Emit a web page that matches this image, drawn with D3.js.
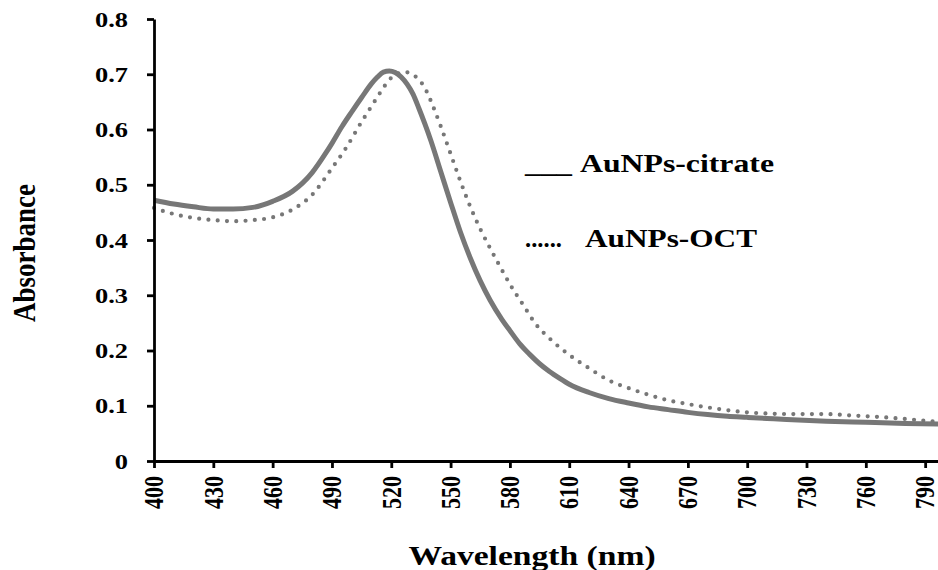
<!DOCTYPE html>
<html>
<head>
<meta charset="utf-8">
<script src="https://cdn.jsdelivr.net/npm/d3@7/dist/d3.min.js"></script>
<style>
  html, body { margin: 0; padding: 0; background: #fff; }
  svg { display: block; }
  text { font-family: "Liberation Serif", "Times New Roman", serif; font-weight: bold; fill: #000; }
</style>
</head>
<body>
<svg id="chart" width="938" height="570"></svg>
<script>
// ---- data ----
const citrateWavelength = [400,410,420,430,440,450,460,470,480,487,490,495,500,505,510,513,516,519,522,525,528,531,534,537,540,545,550,555,560,565,570,576,580,585,590,595,600,605,610,620,630,640,650,660,670,680,690,700,710,720,740,760,780,797];
const citrateAbs = [0.472,0.465,0.460,0.456,0.456,0.459,0.470,0.488,0.522,0.558,0.575,0.605,0.632,0.658,0.683,0.695,0.704,0.706,0.703,0.695,0.682,0.664,0.638,0.610,0.580,0.524,0.468,0.414,0.367,0.326,0.291,0.256,0.236,0.212,0.193,0.176,0.162,0.150,0.139,0.124,0.113,0.105,0.098,0.093,0.088,0.084,0.081,0.079,0.077,0.075,0.072,0.070,0.068,0.067];
const octWavelength = [400,405,410,420,430,440,450,460,470,480,490,497,505,510,515,519,523,527,531,535,538,541,545,550,555,560,565,570,575,580,587,593,600,610,620,630,640,650,660,670,680,690,700,710,720,730,740,750,760,770,780,790,797];
const octAbs = [0.458,0.452,0.447,0.440,0.436,0.434,0.436,0.441,0.455,0.482,0.530,0.566,0.614,0.642,0.670,0.690,0.701,0.704,0.699,0.686,0.668,0.643,0.606,0.556,0.506,0.460,0.420,0.385,0.352,0.320,0.281,0.248,0.222,0.192,0.168,0.146,0.132,0.120,0.110,0.103,0.097,0.092,0.088,0.086,0.085,0.085,0.085,0.083,0.081,0.079,0.076,0.073,0.071];
const xTicks = [400,430,460,490,520,550,580,610,640,670,700,730,760,790];
const yTicks = [0,0.1,0.2,0.3,0.4,0.5,0.6,0.7,0.8];
const seriesNames = ["AuNPs-citrate", "AuNPs-OCT"];
const legendMarks = ["___", "......"];
const xTitle = "Wavelength (nm)";
const yTitle = "Absorbance";

// ---- layout ----
const svg = d3.select("#chart");
const x = d3.scaleLinear().domain([400, 796.5]).range([154, 938]);
const y = d3.scaleLinear().domain([0, 0.8]).range([461, 19]);
const SX = 1.2; // horizontal stretch of the original figure
const lineColor = "#777777";

const line = d3.line().x(d => x(d[0])).y(d => y(d[1])).curve(d3.curveMonotoneX);

const citrate = citrateWavelength.map((w, i) => [w, citrateAbs[i]]);
const oct = octWavelength.map((w, i) => [w, octAbs[i]]);

// dotted OCT
svg.append("path").datum(oct)
  .attr("d", line).attr("fill", "none")
  .attr("stroke", lineColor).attr("stroke-width", 4.2)
  .attr("stroke-linecap", "round").attr("stroke-dasharray", "0 9.3");

// solid citrate
svg.append("path").datum(citrate)
  .attr("d", line).attr("fill", "none")
  .attr("stroke", lineColor).attr("stroke-width", 5)
  .attr("stroke-linejoin", "round");

// axes
const gx = svg.append("g").attr("transform", `translate(0,${y(0)})`)
  .call(d3.axisBottom(x).tickValues(xTicks).tickSize(7).tickSizeOuter(0).tickFormat(d3.format("d")));
gx.select(".domain").attr("stroke", "#000").attr("stroke-width", 2.8);
gx.selectAll(".tick line").attr("stroke", "#000").attr("stroke-width", 2.8);
gx.selectAll(".tick text").remove();

const gy = svg.append("g").attr("transform", `translate(${x(400)},0)`)
  .call(d3.axisLeft(y).tickValues(yTicks).tickSize(7).tickSizeOuter(0).tickFormat(d => d === 0 ? "0" : d3.format(".1f")(d)));
gy.select(".domain").attr("stroke", "#000").attr("stroke-width", 2.8);
gy.selectAll(".tick line").attr("stroke", "#000").attr("stroke-width", 2.8);
gy.selectAll(".tick text").remove();

// y tick labels
svg.append("g").selectAll("text").data(yTicks).join("text")
  .attr("transform", d => `translate(128,${y(d)}) scale(${SX},1)`)
  .attr("text-anchor", "end").attr("dy", "0.35em")
  .style("font-size", "22px")
  .text(d => d === 0 ? "0" : d3.format(".1f")(d));

// x tick labels (rotated)
svg.append("g").selectAll("text").data(xTicks).join("text")
  .attr("transform", d => `translate(${x(d)},476) scale(${SX},1) rotate(-90)`)
  .attr("text-anchor", "end").attr("dy", "0.35em")
  .style("font-size", "22px")
  .text(d => d);

// axis titles
svg.append("text")
  .attr("transform", `translate(532,565) scale(${SX},1)`)
  .attr("text-anchor", "middle").style("font-size", "28px")
  .text(xTitle);
svg.append("text")
  .attr("transform", `translate(24,253) scale(${SX},1) rotate(-90)`)
  .attr("text-anchor", "middle").attr("dy", "0.35em").style("font-size", "27px")
  .text(yTitle);

// legend (text marks)
const legendRows = [
  {mark: legendMarks[0], name: seriesNames[0], y: 172, markX: 525, markW: 47, nameX: 580, nameW: 194},
  {mark: legendMarks[1], name: seriesNames[1], y: 247, markX: 525, markW: 37, nameX: 585, nameW: 172}
];
legendRows.forEach(r => {
  svg.append("text").attr("x", r.markX).attr("y", r.y)
    .attr("textLength", r.markW).attr("lengthAdjust", "spacingAndGlyphs")
    .style("font-size", "25px").text(r.mark);
  svg.append("text").attr("x", r.nameX).attr("y", r.y)
    .attr("textLength", r.nameW).attr("lengthAdjust", "spacingAndGlyphs")
    .style("font-size", "25px").text(r.name);
});
</script>
</body>
</html>
